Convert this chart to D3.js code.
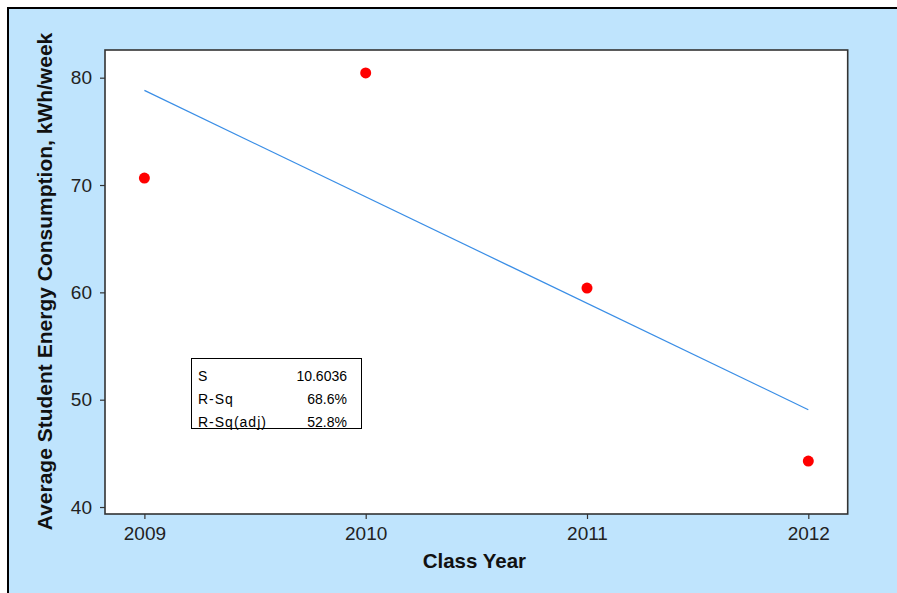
<!DOCTYPE html>
<html>
<head>
<meta charset="utf-8">
<script src="https://cdn.jsdelivr.net/npm/d3@7"></script>
<style>
  html, body { margin: 0; padding: 0; background: #ffffff; overflow: hidden; }
  svg { display: block; }
</style>
</head>
<body>
<div id="chart"></div>
<script>
// Class year vs. average weekly energy use per student
const classYears = [2009, 2010, 2011, 2012];
const energyUse = [70.65, 80.44, 60.4, 44.28];
const yTicks = [40, 50, 60, 70, 80];
const statNames = ["S", "R-Sq", "R-Sq(adj)"];
const statValues = ["10.6036", "68.6%", "52.8%"];

const W = 897, H = 593;
const plot = { left: 105, top: 50, right: 847.7, bottom: 514 };

const svg = d3.select("#chart").append("svg")
  .attr("width", W).attr("height", H);

// Light blue panel, framed on its top and left edges
svg.append("rect")
  .attr("x", 8).attr("y", 8)
  .attr("width", W - 8).attr("height", H - 8)
  .attr("fill", "#bfe4fd");
svg.append("path")
  .attr("d", `M8,${H} L8,8 L${W},8`)
  .attr("fill", "none")
  .attr("stroke", "#000").attr("stroke-width", 2);

const x = d3.scaleLinear().domain([2008.822, 2012.178]).range([plot.left, plot.right]);
const y = d3.scaleLinear().domain([39.35, 82.58]).range([plot.bottom, plot.top]);

// Plot area
svg.append("rect")
  .attr("x", plot.left).attr("y", plot.top)
  .attr("width", plot.right - plot.left).attr("height", plot.bottom - plot.top)
  .attr("fill", "#fff")
  .attr("stroke", "#333").attr("stroke-width", 1.6);

const tickFont = "'Liberation Sans', Arial, sans-serif";

const xAxis = svg.append("g")
  .attr("transform", `translate(0,${plot.bottom})`)
  .call(d3.axisBottom(x).tickValues(classYears).tickFormat(d3.format("d")).tickSize(5).tickPadding(8));
const yAxis = svg.append("g")
  .attr("transform", `translate(${plot.left},0)`)
  .call(d3.axisLeft(y).tickValues(yTicks).tickSize(5).tickPadding(8));

[xAxis, yAxis].forEach(g => {
  g.select(".domain").remove();
  g.selectAll(".tick line").attr("stroke", "#333").attr("stroke-width", 1.2);
  g.selectAll(".tick text")
    .attr("fill", "#222")
    .style("font-family", tickFont)
    .style("font-size", "19px");
});

// Least-squares fit line
const mx = d3.mean(classYears), my = d3.mean(energyUse);
const slope = d3.sum(classYears, (d, i) => (d - mx) * (energyUse[i] - my)) /
              d3.sum(classYears, d => (d - mx) * (d - mx));
const intercept = my - slope * mx;
const fitEnds = [d3.min(classYears), d3.max(classYears)];

svg.append("path")
  .datum(fitEnds)
  .attr("fill", "none")
  .attr("stroke", "#3a8ee6")
  .attr("stroke-width", 1.2)
  .attr("d", d3.line().x(d => x(d)).y(d => y(intercept + slope * d)));

// Observed points
svg.append("g").selectAll("circle")
  .data(classYears)
  .join("circle")
  .attr("cx", d => x(d))
  .attr("cy", (d, i) => y(energyUse[i]))
  .attr("r", 5.5)
  .attr("fill", "#ff0000");

// Fit statistics box
const box = svg.append("g");
box.append("rect")
  .attr("x", 191.5).attr("y", 358.5)
  .attr("width", 170).attr("height", 70)
  .attr("fill", "#fff").attr("stroke", "#000").attr("stroke-width", 1);
statNames.forEach((name, i) => {
  const by = 380.5 + i * 23;
  box.append("text")
    .attr("x", 198).attr("y", by)
    .style("font-family", tickFont).style("font-size", "14px")
    .style("letter-spacing", "1px")
    .attr("fill", "#000")
    .text(name);
  box.append("text")
    .attr("x", 347).attr("y", by)
    .attr("text-anchor", "end")
    .style("font-family", tickFont).style("font-size", "14px")
    .attr("fill", "#000")
    .text(statValues[i]);
});

// Axis titles
const titleFont = "'Liberation Sans', Arial, sans-serif";
svg.append("text")
  .attr("x", (plot.left + plot.right) / 2 - 2).attr("y", 568)
  .attr("text-anchor", "middle")
  .style("font-family", titleFont).style("font-weight", "bold").style("font-size", "20.5px")
  .attr("fill", "#111")
  .text("Class Year");

svg.append("text")
  .attr("transform", `translate(52,${(33 + 530) / 2}) rotate(-90)`)
  .attr("text-anchor", "middle")
  .style("font-family", titleFont).style("font-weight", "bold").style("font-size", "21px")
  .attr("fill", "#111")
  .text("Average Student Energy Consumption, kWh/week");
</script>
</body>
</html>
